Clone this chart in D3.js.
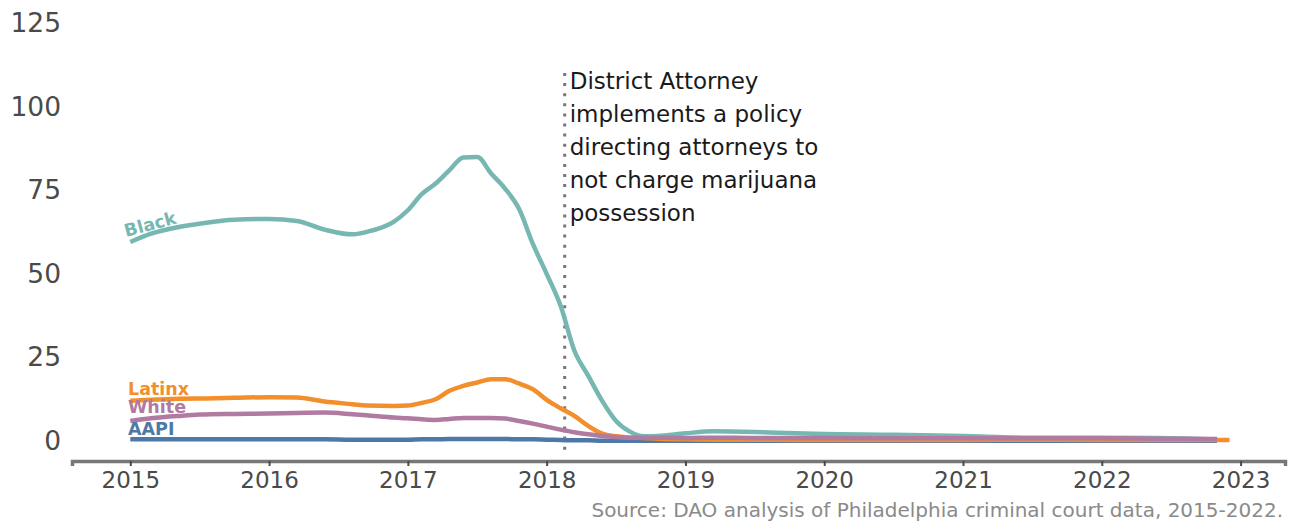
<!DOCTYPE html>
<html>
<head>
<meta charset="utf-8">
<script src="https://cdn.jsdelivr.net/npm/d3@7"></script>
<style>
  html, body { margin: 0; padding: 0; background: #fff; }
  svg { display: block; font-family: "DejaVu Sans", sans-serif; }
</style>
</head>
<body>
<svg id="chart" width="1291" height="523"></svg>
<script>
// ---- data ----
const times = [2015.0, 2015.15, 2015.35, 2015.5, 2015.75, 2016.0, 2016.2, 2016.4, 2016.6, 2016.7,
  2016.9, 2017.0, 2017.1, 2017.2, 2017.3, 2017.4, 2017.5, 2017.6, 2017.7, 2017.8,
  2017.9, 2018.0, 2018.1, 2018.2, 2018.3, 2018.4, 2018.5, 2018.6, 2018.7, 2018.8,
  2019.0, 2019.2, 2019.5, 2019.8, 2020.0, 2020.5, 2021.0, 2021.5, 2022.0, 2022.4,
  2022.83, 2022.92];
const blackVals = [59.5, 62, 64, 65, 66.2, 66.4, 65.8, 63.2, 61.8, 62.5,
  65.6, 69, 73.8, 77, 81, 84.8, 84.9, 80, 75.5, 69.5,
  59, 50, 40.5, 27, 19.5, 12, 6, 2.8, 1.4, 1.5,
  2.3, 2.9, 2.7, 2.3, 2.1, 1.9, 1.5, 1.0, 1.0, 0.9,
  0.4, null];
const latinxVals = [12, 12.3, 12.6, 12.7, 12.9, 13.1, 13, 11.8, 11, 10.6,
  10.5, 10.6, 11.4, 12.5, 15, 16.5, 17.5, 18.5, 18.5, 17.2,
  15.5, 12.3, 9.8, 7.5, 4.5, 2.2, 1.4, 1.0, 0.9, 0.7,
  0.5, 0.4, 0.4, 0.3, 0.3, 0.3, 0.3, 0.4, 0.3, 0.3,
  0.3, 0.3];
const whiteVals = [6, 6.8, 7.5, 7.9, 8.1, 8.2, 8.4, 8.5, 8.0, 7.7,
  7.0, 6.8, 6.5, 6.3, 6.6, 6.9, 6.9, 6.9, 6.7, 6.0,
  5.2, 4.3, 3.4, 2.6, 2.0, 1.5, 1.2, 1.0, 1.0, 1.0,
  0.9, 1.0, 0.9, 0.9, 0.9, 0.8, 0.8, 0.8, 0.8, 0.7,
  0.6, null];
const aapiVals = [0.5, 0.5, 0.5, 0.5, 0.5, 0.5, 0.5, 0.5, 0.4, 0.4,
  0.4, 0.4, 0.5, 0.5, 0.6, 0.6, 0.6, 0.6, 0.6, 0.5,
  0.5, 0.4, 0.3, 0.2, 0.2, 0.1, 0.1, 0.1, 0.1, 0.1,
  0.1, 0.1, 0.1, 0.1, 0.1, 0.1, 0.1, 0.1, 0.1, 0.1,
  0.1, null];
const seriesNames = ["Black", "AAPI", "Latinx", "White"];
const xTicks = [2015, 2016, 2017, 2018, 2019, 2020, 2021, 2022, 2023];
const yTicks = [0, 25, 50, 75, 100, 125];
const policyDate = 2018.13;
const annotationLines = ["District Attorney", "implements a policy", "directing attorneys to",
  "not charge marijuana", "possession"];
const sourceText = "Source: DAO analysis of Philadelphia criminal court data, 2015-2022.";

// ---- styling ----
const colors = { Black: "#76b7b2", Latinx: "#f28e2b", White: "#b07aa1", AAPI: "#4e79a7" };
const valuesByName = { Black: blackVals, Latinx: latinxVals, White: whiteVals, AAPI: aapiVals };

const svg = d3.select("#chart");
const x = d3.scaleLinear().domain([2014.58, 2023.32]).range([72, 1285]);
const y = d3.scaleLinear().domain([0, 125]).range([441, 23]);

// y tick labels (no axis line)
const yAxis = d3.axisLeft(y).tickValues(yTicks).tickSize(0).tickPadding(0);
const gy = svg.append("g").attr("transform", "translate(61,0)").call(yAxis);
gy.select(".domain").remove();
gy.selectAll("text").attr("font-size", 26.5).attr("fill", "#4a4a4a")
  .attr("font-family", "DejaVu Sans, sans-serif");

// x axis
const xAxis = d3.axisBottom(x).tickValues(xTicks).tickFormat(d3.format("d")).tickSize(5).tickPadding(6);
const gx = svg.append("g").attr("transform", "translate(0,461)").call(xAxis);
gx.select(".domain").attr("stroke", "#777").attr("stroke-width", 3.5);
gx.selectAll(".tick line").attr("stroke", "#4a4a4a").attr("stroke-width", 2);
gx.selectAll("text").attr("font-size", 23).attr("fill", "#4a4a4a")
  .attr("font-family", "DejaVu Sans, sans-serif");

// policy line
svg.append("line")
  .attr("x1", x(policyDate)).attr("x2", x(policyDate))
  .attr("y1", 73).attr("y2", 456)
  .attr("stroke", "#777").attr("stroke-width", 3)
  .attr("stroke-dasharray", "3 7.1");

// annotation
const ann = svg.append("text").attr("font-size", 23).attr("fill", "#1a1a1a");
annotationLines.forEach((l, i) => {
  ann.append("tspan").attr("x", x(policyDate) + 5).attr("y", 89 + i * 33).text(l);
});

// lines
const line = d3.line()
  .defined(d => d[1] !== null)
  .x(d => x(d[0])).y(d => y(d[1]))
  .curve(d3.curveMonotoneX);
seriesNames.forEach(name => {
  const pts = times.map((t, i) => [t, valuesByName[name][i]]);
  svg.append("path").datum(pts)
    .attr("fill", "none").attr("stroke", colors[name])
    .attr("stroke-width", 4.5).attr("stroke-linejoin", "round")
    .attr("d", line);
});

// series labels
const lab = (name, tx, ty, rot) => svg.append("text")
  .attr("transform", `translate(${tx},${ty}) rotate(${rot})`)
  .attr("font-size", 17.5).attr("font-weight", "bold").attr("fill", colors[name]).text(name);
lab("Black", 126, 237, -15);
lab("Latinx", 128, 395, 0);
lab("White", 128, 413, 0);
lab("AAPI", 128, 435, 0);

// source
svg.append("text").attr("x", 1283).attr("y", 517).attr("text-anchor", "end")
  .attr("font-size", 20).attr("fill", "#8a8a8a").text(sourceText);
</script>
</body>
</html>
